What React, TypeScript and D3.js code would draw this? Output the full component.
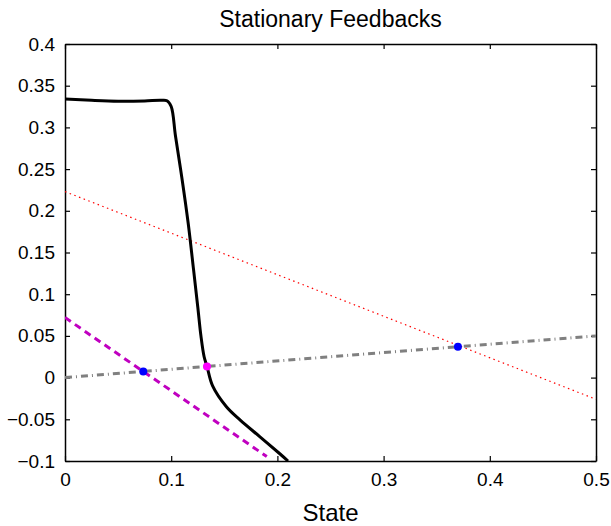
import { useEffect, useRef } from 'react';
import * as d3 from 'd3';

// black solid curve (stationary feedback)
const feedbackX = [0, 0.025, 0.05, 0.075, 0.09, 0.096, 0.1, 0.104, 0.11, 0.116, 0.121, 0.125, 0.128, 0.131, 0.1337, 0.139, 0.152, 0.165, 0.1836, 0.202, 0.21];
const feedbackY = [0.334, 0.3325, 0.3315, 0.3318, 0.3325, 0.332, 0.325, 0.29, 0.24, 0.185, 0.13, 0.085, 0.05, 0.025, 0.0134, -0.01, -0.035, -0.051, -0.071, -0.091, -0.1];

// straight lines
const redX = [0, 0.5];
const redY = [0.223, -0.026];
const grayX = [0, 0.5];
const grayY = [0, 0.05];
const magentaX = [0, 0.19];
const magentaY = [0.072, -0.0947];

// marked intersections
const blueDots = [[0.0737, 0.0074], [0.37, 0.037]];
const magentaDots = [[0.1337, 0.0134]];

const xTicks = [0, 0.1, 0.2, 0.3, 0.4, 0.5];
const yTicks = [-0.1, -0.05, 0, 0.05, 0.1, 0.15, 0.2, 0.25, 0.3, 0.35, 0.4];

export default function App() {
  const svgRef = useRef(null);

  useEffect(() => {
    const width = 611;
    const height = 526;
    const margin = { top: 44, right: 15, bottom: 65, left: 65 };
    const innerWidth = width - margin.left - margin.right;
    const innerHeight = height - margin.top - margin.bottom;

    const root = d3.select(svgRef.current);
    root.selectAll('*').remove();
    root.attr('width', width).attr('height', height);

    const svg = root.append('g').attr('transform', `translate(${margin.left},${margin.top})`);

    const x = d3.scaleLinear().domain([0, 0.5]).range([0, innerWidth]);
    const y = d3.scaleLinear().domain([-0.1, 0.4]).range([innerHeight, 0]);

    svg.append('defs').append('clipPath').attr('id', 'plot-clip')
      .append('rect').attr('width', innerWidth).attr('height', innerHeight);

    const font = 'Liberation Sans, Arial, Helvetica, sans-serif';
    const fmt = (d) => (d < 0 ? '\u2212' : '') + String(Math.abs(+d.toFixed(2)));

    // axes with inward ticks on all four sides
    const tick = 5;
    const axes = svg.append('g');
    axes.append('g').attr('transform', `translate(0,${innerHeight})`)
      .call(d3.axisBottom(x).tickValues(xTicks).tickSizeInner(-tick).tickSizeOuter(0).tickPadding(12).tickFormat(fmt));
    axes.append('g')
      .call(d3.axisTop(x).tickValues(xTicks).tickSizeInner(-tick).tickSizeOuter(0).tickFormat(() => ''));
    axes.append('g')
      .call(d3.axisLeft(y).tickValues(yTicks).tickSizeInner(-tick).tickSizeOuter(0).tickPadding(10).tickFormat(fmt));
    axes.append('g').attr('transform', `translate(${innerWidth},0)`)
      .call(d3.axisRight(y).tickValues(yTicks).tickSizeInner(-tick).tickSizeOuter(0).tickFormat(() => ''));
    axes.selectAll('.domain').attr('stroke', '#000').attr('stroke-width', 1.5);
    axes.selectAll('.tick line').attr('stroke', '#000').attr('stroke-width', 1.2);
    axes.selectAll('.tick text').attr('fill', '#000').attr('font-family', font).attr('font-size', 19);

    const plot = svg.append('g').attr('clip-path', 'url(#plot-clip)');
    const line = d3.line().x(d => x(d[0])).y(d => y(d[1]));
    const zip = (xs, ys) => xs.map((v, i) => [v, ys[i]]);

    plot.append('path').datum(zip(redX, redY))
      .attr('fill', 'none').attr('stroke', '#ff0000').attr('stroke-width', 1.2)
      .attr('stroke-dasharray', '1.5,3.5').attr('d', line);

    plot.append('path').datum(zip(grayX, grayY))
      .attr('fill', 'none').attr('stroke', '#808080').attr('stroke-width', 3)
      .attr('stroke-dasharray', '7,4,1,4').attr('d', line);

    plot.append('path').datum(zip(magentaX, magentaY))
      .attr('fill', 'none').attr('stroke', '#c000c0').attr('stroke-width', 3)
      .attr('stroke-dasharray', '7,5').attr('d', line);

    plot.append('path').datum(zip(feedbackX, feedbackY))
      .attr('fill', 'none').attr('stroke', '#000').attr('stroke-width', 3)
      .attr('stroke-linejoin', 'round')
      .attr('d', d3.line().x(d => x(d[0])).y(d => y(d[1])).curve(d3.curveCatmullRom.alpha(0.5)));

    plot.selectAll('circle.blue').data(blueDots).enter().append('circle')
      .attr('class', 'blue').attr('cx', d => x(d[0])).attr('cy', d => y(d[1]))
      .attr('r', 4).attr('fill', '#0000ff');

    plot.selectAll('circle.mag').data(magentaDots).enter().append('circle')
      .attr('class', 'mag').attr('cx', d => x(d[0])).attr('cy', d => y(d[1]))
      .attr('r', 4).attr('fill', '#ff00ff');

    // titles
    svg.append('text').attr('x', innerWidth / 2).attr('y', -17)
      .attr('text-anchor', 'middle').attr('font-family', font).attr('font-size', 23)
      .text('Stationary Feedbacks');
    svg.append('text').attr('x', innerWidth / 2).attr('y', innerHeight + 60)
      .attr('text-anchor', 'middle').attr('font-family', font).attr('font-size', 24)
      .text('State');
  }, []);

  return <svg ref={svgRef} style={{ position: 'absolute', left: 0, top: 0 }}></svg>;
}
